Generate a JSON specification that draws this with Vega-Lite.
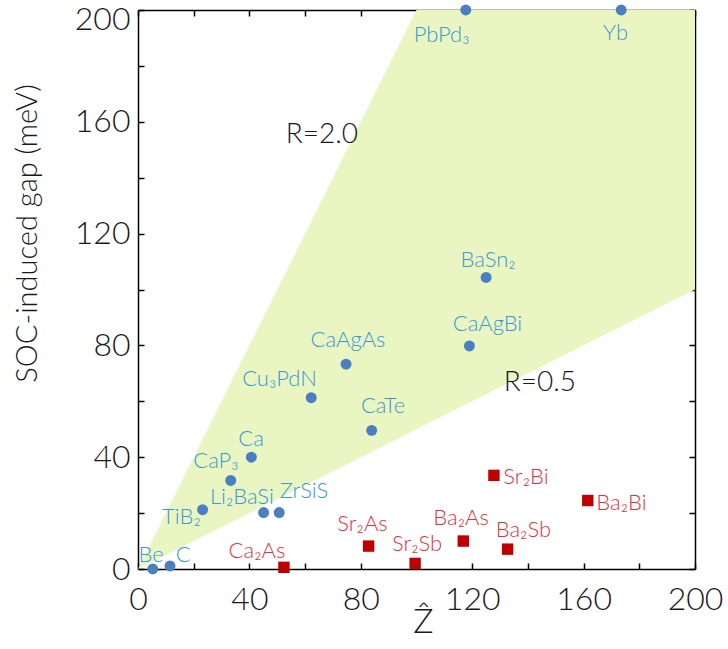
{
  "$schema": "https://vega.github.io/schema/vega-lite/v6.json",
  "width": 557,
  "height": 559,
  "autosize": "none",
  "padding": {"left": 138, "top": 10, "right": 33, "bottom": 80},
  "background": "white",
  "config": {
    "view": {"stroke": null},
    "font": "Lato",
    "axis": {
      "domainColor": "#000000",
      "domainWidth": 1.5,
      "tickColor": "#000000",
      "tickWidth": 1.5,
      "tickSize": -6,
      "grid": false,
      "labelFont": "Lato",
      "labelFontWeight": 300,
      "labelFontSize": 32,
      "labelColor": "#1a1a1a",
      "titleFont": "Lato",
      "titleFontWeight": 300,
      "titleColor": "#1a1a1a"
    }
  },
  "datasets": {
    "wedge": [
      {"z": 0, "hi": 0, "lo": 0},
      {"z": 100, "hi": 200, "lo": 50},
      {"z": 200, "hi": 200, "lo": 100}
    ],
    "pts": [
      {"name": "Be", "z": 5.3, "gap": 0, "grp": "metal"},
      {"name": "C", "z": 11.5, "gap": 1.1, "grp": "metal"},
      {"name": "TiB₂", "z": 23.2, "gap": 21.2, "grp": "metal"},
      {"name": "CaP₃", "z": 33.3, "gap": 31.7, "grp": "metal"},
      {"name": "Ca", "z": 40.7, "gap": 40, "grp": "metal"},
      {"name": "Li₂BaSi", "z": 45.1, "gap": 20.2, "grp": "metal"},
      {"name": "ZrSiS", "z": 50.7, "gap": 20.2, "grp": "metal"},
      {"name": "Cu₃PdN", "z": 62.2, "gap": 61.3, "grp": "metal"},
      {"name": "CaAgAs", "z": 74.7, "gap": 73.3, "grp": "metal"},
      {"name": "CaTe", "z": 83.9, "gap": 49.6, "grp": "metal"},
      {"name": "BaSn₂", "z": 125, "gap": 104.3, "grp": "metal"},
      {"name": "CaAgBi", "z": 119, "gap": 79.8, "grp": "metal"},
      {"name": "PbPd₃", "z": 117.7, "gap": 200, "grp": "metal"},
      {"name": "Yb", "z": 173.5, "gap": 200, "grp": "metal"},
      {"name": "Ca₂As", "z": 52.4, "gap": 0.6, "grp": "electride"},
      {"name": "Sr₂As", "z": 82.8, "gap": 8.2, "grp": "electride"},
      {"name": "Sr₂Sb", "z": 99.5, "gap": 2, "grp": "electride"},
      {"name": "Ba₂As", "z": 116.8, "gap": 10, "grp": "electride"},
      {"name": "Ba₂Sb", "z": 132.7, "gap": 7.1, "grp": "electride"},
      {"name": "Sr₂Bi", "z": 127.8, "gap": 33.5, "grp": "electride"},
      {"name": "Ba₂Bi", "z": 161.5, "gap": 24.5, "grp": "electride"}
    ],
    "labels": [
      {"name": "Be", "lz": 4.7, "lgap": 5.0, "grp": "metal"},
      {"name": "C", "lz": 16.2, "lgap": 5.0, "grp": "metal"},
      {"name": "TiB₂", "lz": 15.6, "lgap": 18.6, "grp": "metal"},
      {"name": "CaP₃", "lz": 28, "lgap": 38.6, "grp": "metal"},
      {"name": "Ca", "lz": 40.6, "lgap": 46.4, "grp": "metal"},
      {"name": "Li₂BaSi", "lz": 37.3, "lgap": 25.8, "grp": "metal"},
      {"name": "ZrSiS", "lz": 59.6, "lgap": 27.9, "grp": "metal"},
      {"name": "Cu₃PdN", "lz": 50.8, "lgap": 68.0, "grp": "metal"},
      {"name": "CaAgAs", "lz": 75.4, "lgap": 81.8, "grp": "metal"},
      {"name": "CaTe", "lz": 88, "lgap": 58.2, "grp": "metal"},
      {"name": "BaSn₂", "lz": 125.7, "lgap": 110.4, "grp": "metal"},
      {"name": "CaAgBi", "lz": 125.5, "lgap": 87.5, "grp": "metal"},
      {"name": "PbPd₃", "lz": 109, "lgap": 191.2, "grp": "metal"},
      {"name": "Yb", "lz": 171.5, "lgap": 191.8, "grp": "metal"},
      {"name": "Ca₂As", "lz": 42.7, "lgap": 6.4, "grp": "electride"},
      {"name": "Sr₂As", "lz": 80.6, "lgap": 16.0, "grp": "electride"},
      {"name": "Sr₂Sb", "lz": 100.2, "lgap": 8.9, "grp": "electride"},
      {"name": "Ba₂As", "lz": 116, "lgap": 18.2, "grp": "electride"},
      {"name": "Ba₂Sb", "lz": 138.4, "lgap": 13.9, "grp": "electride"},
      {"name": "Sr₂Bi", "lz": 139.3, "lgap": 32.8, "grp": "electride"},
      {"name": "Ba₂Bi", "lz": 173.6, "lgap": 23.7, "grp": "electride"}
    ],
    "ratios": [
      {"name": "R=2.0", "lz": 66, "lgap": 155.4},
      {"name": "R=0.5", "lz": 144.3, "lgap": 66.4}
    ]
  },
  "layer": [
    {
      "data": {"name": "wedge"},
      "mark": {"type": "area", "color": "#e9f6c2", "opacity": 1},
      "encoding": {
        "x": {"field": "z", "type": "quantitative", "scale": {"domain": [0, 200], "nice": false, "zero": false},
          "axis": {"orient": "bottom", "values": [0, 20, 40, 60, 80, 100, 120, 140, 160, 180, 200],
            "labelExpr": "datum.value % 40 === 0 ? datum.label : ''", "labelPadding": 21, "labelFlush": false, "labelOverlap": false,
            "title": "Ẑ", "titleFontSize": 34, "titleX": 285, "titleY": 53, "titleBaseline": "middle", "titleAlign": "center"}},
        "y": {"field": "hi", "type": "quantitative", "scale": {"domain": [0, 200], "nice": false, "zero": false},
          "axis": {"orient": "left", "values": [0, 20, 40, 60, 80, 100, 120, 140, 160, 180, 200],
            "labelExpr": "datum.value % 40 === 0 ? datum.label : ''", "labelPadding": 14, "labelFlush": false, "labelOverlap": false,
            "labelOffset": {"condition": {"test": "datum.value === 200", "value": 9}, "value": 0},
            "title": "SOC-induced gap (meV)", "titleFontSize": 29, "titleX": -111, "titleY": 223, "titleAngle": -90,
            "titleBaseline": "middle", "titleAlign": "center"}},
        "y2": {"field": "lo"}
      }
    },
    {
      "data": {"name": "wedge"},
      "mark": {"type": "point", "opacity": 0},
      "encoding": {
        "x": {"field": "z", "type": "quantitative", "scale": {"domain": [0, 200], "nice": false, "zero": false},
          "axis": {"orient": "top", "values": [0, 20, 40, 60, 80, 100, 120, 140, 160, 180, 200], "labels": false, "title": null}},
        "y": {"field": "hi", "type": "quantitative", "scale": {"domain": [0, 200], "nice": false, "zero": false},
          "axis": {"orient": "right", "values": [0, 20, 40, 60, 80, 100, 120, 140, 160, 180, 200], "labels": false, "title": null}}
      }
    },
    {
      "data": {"name": "pts"},
      "transform": [{"filter": "datum.grp === 'metal'"}],
      "mark": {"type": "circle", "size": 120, "opacity": 1, "color": "#4a7fc1", "clip": false},
      "encoding": {
        "x": {"field": "z", "type": "quantitative", "axis": null},
        "y": {"field": "gap", "type": "quantitative", "axis": null}
      }
    },
    {
      "data": {"name": "pts"},
      "transform": [{"filter": "datum.grp === 'electride'"}],
      "mark": {"type": "square", "size": 130, "opacity": 1, "color": "#c00000", "clip": false},
      "encoding": {
        "x": {"field": "z", "type": "quantitative", "axis": null},
        "y": {"field": "gap", "type": "quantitative", "axis": null}
      }
    },
    {
      "data": {"name": "labels"},
      "mark": {"type": "text", "font": "Lato", "fontWeight": 300, "fontSize": 22, "align": "center", "baseline": "middle"},
      "encoding": {
        "x": {"field": "lz", "type": "quantitative", "axis": null},
        "y": {"field": "lgap", "type": "quantitative", "axis": null},
        "text": {"field": "name"},
        "color": {"field": "grp", "type": "nominal", "legend": null,
          "scale": {"domain": ["metal", "electride"], "range": ["#3d96d6", "#e0323a"]}}
      }
    },
    {
      "data": {"name": "ratios"},
      "mark": {"type": "text", "font": "Lato", "fontWeight": 300, "fontSize": 28, "align": "center", "baseline": "middle", "color": "#1a1a1a"},
      "encoding": {
        "x": {"field": "lz", "type": "quantitative", "axis": null},
        "y": {"field": "lgap", "type": "quantitative", "axis": null},
        "text": {"field": "name"}
      }
    }
  ],
  "resolve": {"axis": {"x": "independent", "y": "independent"}}
}
